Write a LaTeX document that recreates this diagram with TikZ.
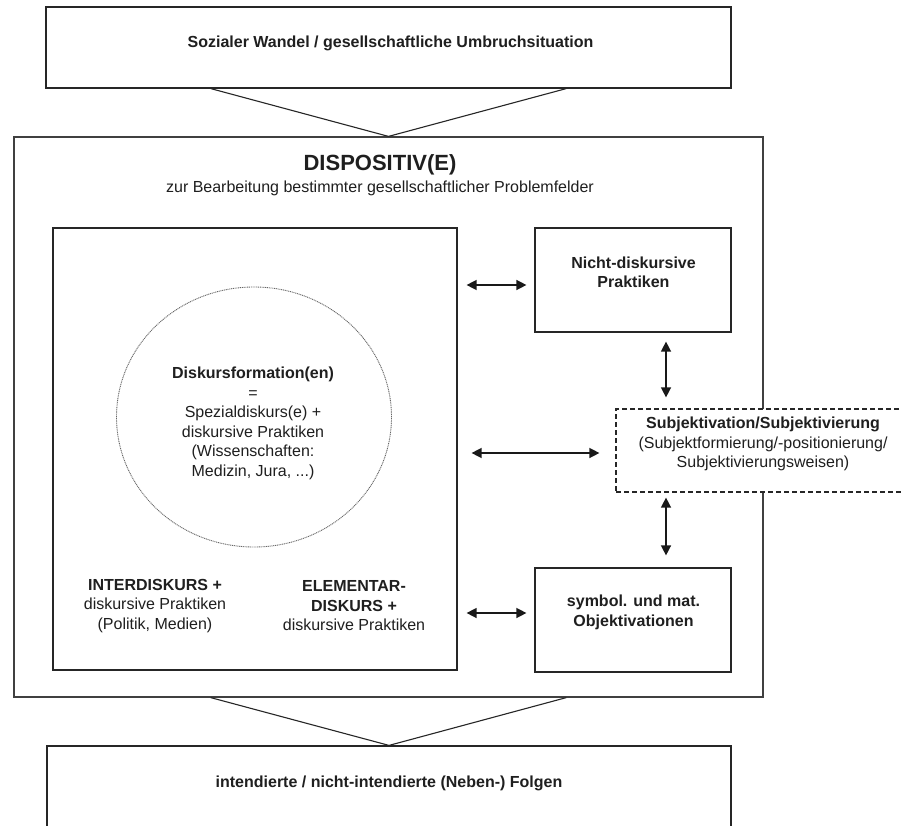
\documentclass[tikz,border=0pt]{standalone}
\usepackage{fontspec}
\setmainfont{Liberation Sans}
\usetikzlibrary{shapes.geometric,arrows.meta,calc}
\begin{document}
\begin{tikzpicture}[x=1pt,y=-1pt,
  box/.style={draw=black!85, line width=1.2pt, fill=white, inner sep=0pt},
  txt/.style={align=center, font=\fontsize{16}{19.5}\selectfont, text=black!88, inner sep=0pt},
  btxt/.style={align=center, font=\fontsize{16}{19.5}\selectfont\bfseries, text=black!88, inner sep=0pt},
  biarr/.style={{Triangle[length=10pt,width=10pt]}-{Triangle[length=10pt,width=10pt]}, line width=1.4pt, draw=black!90},
  funnel/.style={line width=1.1pt, draw=black!85}]
\useasboundingbox (0,0) rectangle (901,826);
\clip (0,0) rectangle (901,826);
\fill[white] (0,0) rectangle (901,826);

% boxes
\node[box, minimum width=685, minimum height=81] (top) at (388.5,47.5) {};
\node[box, draw=black!75, minimum width=749, minimum height=560] (outer) at (388.5,417) {};
\node[box, minimum width=404, minimum height=442] (inner) at (255,449) {};
\node[ellipse, draw=black!60, dash pattern=on 1pt off 0.8pt, line width=0.9pt, minimum width=275, minimum height=260, inner sep=0pt] (circ) at (254,417) {};
\node[box, minimum width=196, minimum height=104] (nicht) at (633,280) {};
\node[box, dashed, dash pattern=on 5pt off 3pt, minimum width=304, minimum height=83] (subj) at (768,450.5) {};
\node[box, minimum width=196, minimum height=104] (sym) at (633,620) {};
\node[box, minimum width=684, minimum height=114] (bottom) at (389,803) {};

% texts
\node[btxt] (ttop) at (390.5,43) {Sozialer Wandel / gesellschaftliche Umbruchsituation};
\node[btxt, font=\fontsize{22}{26}\selectfont\bfseries] (tdisp) at (380,165) {DISPOSITIV(E)};
\node[txt] (tsub) at (380,188) {zur Bearbeitung bestimmter gesellschaftlicher Problemfelder};
\node[txt] (tcirc) at (253,423.5) {\textbf{Diskursformation(en)}\\=\\Spezialdiskurs(e) +\\diskursive Praktiken\\(Wissenschaften:\\Medizin, Jura, ...)};
\node[txt] (tinter) at (155,606) {\textbf{INTERDISKURS +}\\diskursive Praktiken\\(Politik, Medien)};
\node[txt] (telem) at (354,606) {\textbf{ELEMENTAR-}\\\textbf{DISKURS +}\\diskursive Praktiken};
\node[btxt] (tnicht) at (633.5,272.5) {Nicht-diskursive\\Praktiken};
\node[txt] (tsubj) at (763,444) {\textbf{Subjektivation/Subjektivierung}\\(Subjektformierung/-positionierung/\\Subjektivierungsweisen)};
\node[btxt] (tsym) at (633.5,612.5) {symbol. und mat.\\Objektivationen};
\node[btxt] (tbot) at (389,783) {intendierte / nicht-intendierte (Neben-) Folgen};

% funnels
\draw[funnel] ($(top.south west)!0.241!(top.south east)$) -- (outer.north) -- ($(top.south west)!0.759!(top.south east)$);
\draw[funnel] ($(outer.south west)!0.263!(outer.south east)$) -- (bottom.north) -- ($(outer.south west)!0.737!(outer.south east)$);

% arrows
\draw[biarr, shorten <=9pt, shorten >=8pt] ($(inner.east |- nicht.west)+(0,5)$) -- ($(nicht.west)+(0,5)$);
\draw[biarr, shorten <=14pt, shorten >=16pt] ($(inner.east |- subj.west)+(0,2.5)$) -- ($(subj.west)+(0,2.5)$);
\draw[biarr, shorten <=9pt, shorten >=8pt] ($(inner.east |- sym.west)+(0,-7)$) -- ($(sym.west)+(0,-7)$);
\draw[biarr, shorten <=9pt, shorten >=11pt] ($(nicht.south)+(33,0)$) -- ($(nicht.south |- subj.north)+(33,0)$);
\draw[biarr, shorten <=5pt, shorten >=12pt] ($(sym.north |- subj.south)+(33,0)$) -- ($(sym.north)+(33,0)$);
\end{tikzpicture}
\end{document}
